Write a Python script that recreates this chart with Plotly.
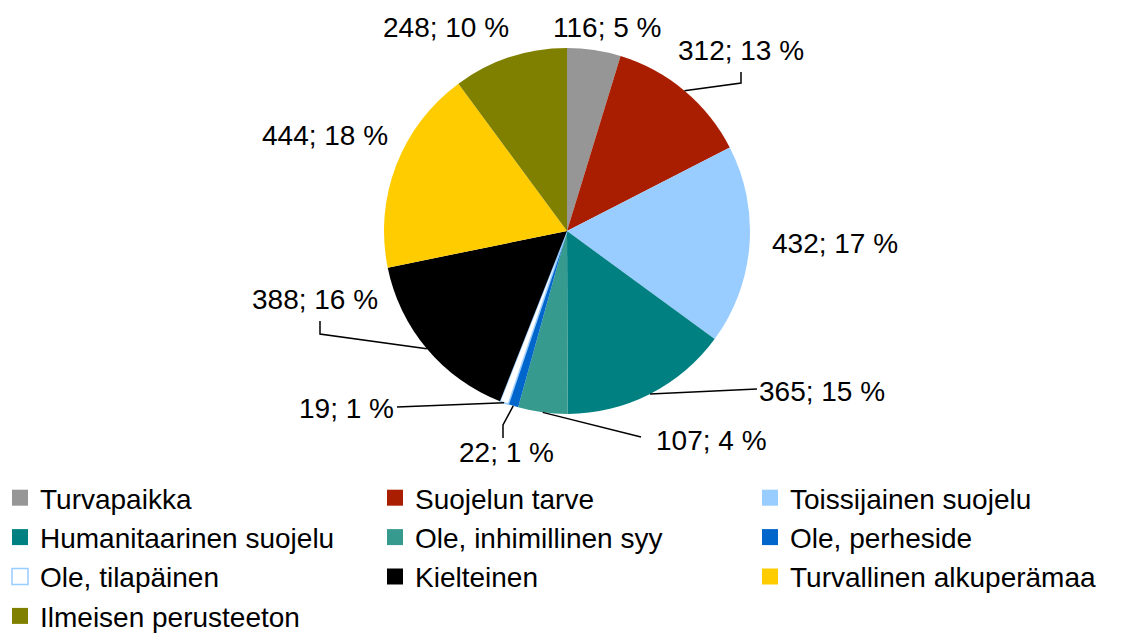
import math
import plotly.graph_objects as go

# ---- data ----
categories = ["Turvapaikka", "Suojelun tarve", "Toissijainen suojelu",
              "Humanitaarinen suojelu", "Ole, inhimillinen syy", "Ole, perheside",
              "Ole, tilapäinen", "Kielteinen", "Turvallinen alkuperämaa",
              "Ilmeisen perusteeton"]
values = [116, 312, 432, 365, 107, 22, 19, 388, 444, 248]
percent_labels = [5, 13, 17, 15, 4, 1, 1, 16, 18, 10]

# ---- style ----
colors = ["#969696", "#A91E00", "#99CCFF", "#008080", "#379A8E", "#0066CC",
          "#FFFFFF", "#000000", "#FFCC00", "#808000"]
line_colors = ["#969696", "#A91E00", "#99CCFF", "#008080", "#379A8E", "#0066CC",
               "#99CCFF", "#000000", "#FFCC00", "#808000"]
line_widths = [0, 0, 0, 0, 0, 0, 1.5, 0, 0, 0]

W, H = 1125, 645  # figure slightly taller than the 633px window (bottom is clipped)
CX, CY, R = 567, 231, 183  # pie centre / radius in pixels
FONT = "Liberation Sans, Arial, sans-serif"

# label centre offsets from pie centre (pixels)
label_offsets = [(40, -203), (174, -181), (268, 12), (255, 160), (145, 209),
                 (-61, 221), (-221, 177), (-252, 69), (-242, -96), (-121, -203)]
# leader lines: index -> points (pixel offsets from centre) before the slice edge
leaders = {
    1: [(174, -159), (174, -148)],
    3: [(190, 158)],
    4: [(74, 206)],
    5: [(-64, 207), (-64, 194)],
    6: [(-170, 176)],
    7: [(-247, 90), (-247, 103)],
}


def px(x):
    return x / W


def py(y):
    return 1 - y / H


total = sum(values)
cum = 0
mids = []
for v in values:
    mids.append((cum + v / 2) / total * 2 * math.pi)
    cum += v

fig = go.Figure()
fig.add_trace(go.Pie(
    labels=categories, values=values, sort=False, direction="clockwise",
    rotation=0, textinfo="none", hoverinfo="label+value+percent", showlegend=False,
    marker=dict(colors=colors, line=dict(color=line_colors, width=line_widths)),
    domain=dict(x=[px(CX - R), px(CX + R)], y=[py(CY + R), py(CY - R)]),
))

# legend entries (square swatches)
for name, c, lc, lw in zip(categories, colors, line_colors, line_widths):
    fig.add_trace(go.Scatter(
        x=[None], y=[None], mode="markers", name=name, hoverinfo="skip",
        marker=dict(symbol="square", size=20, color=c,
                    line=dict(color=lc, width=lw if lw else 0)),
    ))

annotations = []
for i, (v, p) in enumerate(zip(values, percent_labels)):
    dx, dy = label_offsets[i]
    annotations.append(dict(
        x=px(CX + dx), y=py(CY + dy), xref="paper", yref="paper",
        text=f"{v}; {p} %", showarrow=False, xanchor="center", yanchor="middle",
        font=dict(size=28, color="#000000", family=FONT)))

shapes = []
for i, pts in leaders.items():
    a = mids[i]
    ex, ey = CX + R * math.sin(a), CY - R * math.cos(a)
    allp = [(CX + x, CY + y) for x, y in pts] + [(ex, ey)]
    path = "M " + " L ".join(f"{px(x):.5f},{py(y):.5f}" for x, y in allp)
    shapes.append(dict(type="path", path=path, xref="paper", yref="paper",
                       line=dict(color="#000000", width=1.5)))

fig.update_layout(
    width=W, height=H, margin=dict(l=0, r=0, t=0, b=0),
    paper_bgcolor="#FFFFFF", plot_bgcolor="#FFFFFF",
    font=dict(family=FONT, size=28, color="#000000"),
    annotations=annotations, shapes=shapes,
    xaxis=dict(visible=False), yaxis=dict(visible=False),
    legend=dict(orientation="h", x=0, xanchor="left", y=py(473), yanchor="top",
                entrywidth=330, entrywidthmode="pixels",
                font=dict(size=28, family=FONT, color="#000000"),
                itemclick=False, itemdoubleclick=False),
    showlegend=True,
)

fig.write_html("out.html", config={"displayModeBar": False},
               post_script="document.body.style.margin='0';"
                           "document.body.style.overflow='hidden';")
